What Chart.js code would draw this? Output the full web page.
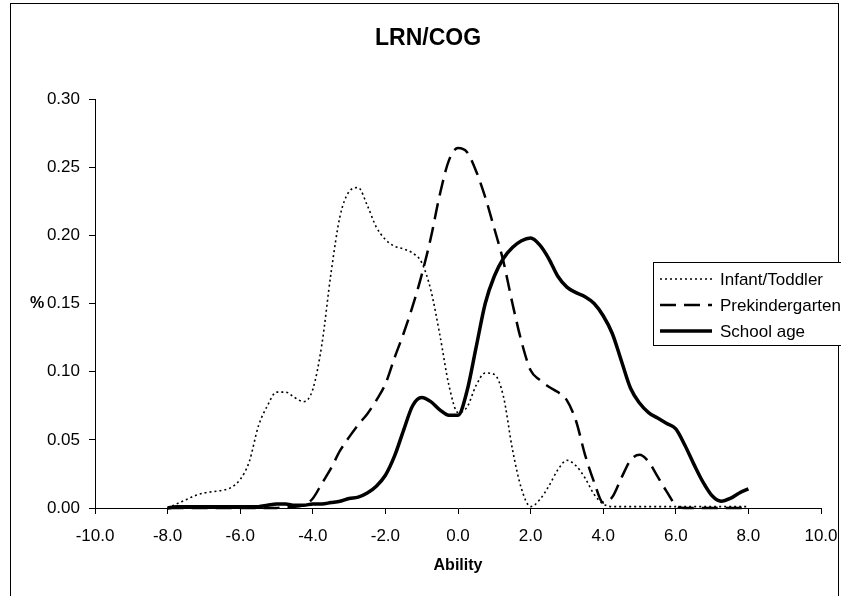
<!DOCTYPE html>
<html>
<head>
<meta charset="utf-8">
<script src="https://cdn.jsdelivr.net/npm/chart.js@4.4.1/dist/chart.umd.min.js"></script>
<style>
  html, body { margin: 0; padding: 0; background: #fff; }
  #wrap { width: 841px; height: 596px; }
</style>
</head>
<body>
<div id="wrap"><canvas id="chart" width="841" height="596"></canvas></div>
<script>
const FONT = "'Liberation Sans', Arial, sans-serif";

const chartTitle = "LRN/COG";
const xAxisTitle = "Ability";
const yAxisTitle = "%";
const seriesNames = ["Infant/Toddler", "Prekindergarten", "School age"];

// ability scores (x values)
const ability = [
  -8, -7.75, -7.5, -7.25, -7, -6.75, -6.5, -6.25, -6, -5.75, -5.5, -5.25, -5,
  -4.75, -4.5, -4.25, -4, -3.75, -3.5, -3.25, -3, -2.75, -2.5, -2.25, -2,
  -1.75, -1.5, -1.25, -1, -0.75, -0.5, -0.25, 0, 0.25, 0.5, 0.75, 1, 1.25,
  1.5, 1.75, 2, 2.25, 2.5, 2.75, 3, 3.25, 3.5, 3.75, 4, 4.25, 4.5, 4.75, 5,
  5.25, 5.5, 5.75, 6, 6.25, 6.5, 6.75, 7, 7.25, 7.5, 7.75, 8
];

const infantToddler = [
  0.000, 0.003, 0.006, 0.009, 0.011, 0.012, 0.013, 0.015, 0.021, 0.034, 0.060, 0.075, 0.085,
  0.085, 0.081, 0.078, 0.087, 0.120, 0.172, 0.214, 0.232, 0.235, 0.222, 0.206, 0.197,
  0.192, 0.190, 0.187, 0.180, 0.160, 0.127, 0.090, 0.070, 0.074, 0.090, 0.099, 0.098, 0.082,
  0.043, 0.014, 0.001, 0.006, 0.016, 0.028, 0.035, 0.031, 0.022, 0.010, 0.003, 0.001, 0.001, 0.001, 0.001,
  0.001, 0.001, 0.001, 0.001, 0.001, 0.001, 0.001, 0.001, 0.001, 0.001, 0.001, 0.001
];

const prekindergarten = [
  0.000, 0.000, 0.000, 0.000, 0.000, 0.000, 0.000, 0.000, 0.000, 0.000, 0.000, 0.000, 0.000,
  0.001, 0.001, 0.002, 0.007, 0.018, 0.029, 0.042, 0.052, 0.061, 0.069, 0.079, 0.091,
  0.110, 0.128, 0.148, 0.171, 0.198, 0.230, 0.255, 0.264, 0.261, 0.247, 0.228, 0.205, 0.181,
  0.150, 0.122, 0.101, 0.094, 0.089, 0.085, 0.079, 0.064, 0.039, 0.019, 0.004, 0.008, 0.022, 0.035, 0.039,
  0.034, 0.023, 0.012, 0.002, 0.000, 0.000, 0.000, 0.000, 0.000, 0.000, 0.000, 0.000
];

const schoolAge = [
  0.000, 0.001, 0.001, 0.001, 0.001, 0.001, 0.001, 0.001, 0.001, 0.001, 0.001, 0.002, 0.003,
  0.003, 0.002, 0.002, 0.003, 0.003, 0.004, 0.005, 0.007, 0.008, 0.011, 0.016, 0.024,
  0.038, 0.057, 0.075, 0.081, 0.078, 0.072, 0.068, 0.068, 0.086, 0.118, 0.150, 0.170, 0.183,
  0.191, 0.196, 0.198, 0.193, 0.183, 0.170, 0.162, 0.158, 0.155, 0.150, 0.141, 0.128, 0.108, 0.088, 0.077,
  0.070, 0.066, 0.062, 0.058, 0.046, 0.032, 0.019, 0.009, 0.005, 0.007, 0.011, 0.014
];

function points(values) {
  return ability.map((x, i) => ({ x: x, y: values[i] }));
}

const styles = [
  { width: 1.6, dash: [2, 3] },
  { width: 2.5, dash: [16, 8] },
  { width: 3.5, dash: [] }
];

// border, title, axis titles and the legend box inside the plot
const extras = {
  id: "extras",
  beforeDraw(chart) {
    const ctx = chart.ctx;
    ctx.save();
    ctx.fillStyle = "#fff";
    ctx.fillRect(0, 0, chart.width, chart.height);
    ctx.strokeStyle = "#000";
    ctx.lineWidth = 1;
    ctx.strokeRect(10.5, 3.5, 828, 620);
    ctx.restore();
  },
  afterDraw(chart) {
    const ctx = chart.ctx;
    ctx.save();
    ctx.fillStyle = "#000";
    ctx.textAlign = "center";
    ctx.textBaseline = "middle";
    ctx.font = "bold 23px " + FONT;
    ctx.fillText(chartTitle, 428, 39);
    ctx.font = "bold 16px " + FONT;
    ctx.fillText(xAxisTitle, 458, 566);
    ctx.fillText(yAxisTitle, 37, 304);

    // legend
    const lx = 653, ly = 262;
    ctx.fillStyle = "#fff";
    ctx.fillRect(lx, ly, 200, 83);
    ctx.strokeStyle = "#000";
    ctx.lineWidth = 1;
    ctx.strokeRect(lx + 0.5, ly + 0.5, 200, 83);
    ctx.font = "17px " + FONT;
    ctx.textAlign = "left";
    const rows = [279, 305, 331];
    seriesNames.forEach((name, i) => {
      ctx.beginPath();
      ctx.lineWidth = styles[i].width;
      ctx.setLineDash(styles[i].dash);
      ctx.moveTo(660, rows[i]);
      ctx.lineTo(712, rows[i]);
      ctx.stroke();
      ctx.setLineDash([]);
      ctx.fillStyle = "#000";
      ctx.fillText(name, 720, rows[i] + 1);
    });
    ctx.restore();
  }
};

new Chart(document.getElementById("chart"), {
  type: "line",
  data: {
    datasets: [infantToddler, prekindergarten, schoolAge].map((vals, i) => ({
      label: seriesNames[i],
      data: points(vals),
      borderColor: "#000",
      borderWidth: styles[i].width,
      borderDash: styles[i].dash,
      pointRadius: 0,
      fill: false,
      cubicInterpolationMode: "monotone",
      clip: false
    }))
  },
  options: {
    responsive: false,
    animation: false,
    layout: { padding: { top: 99, right: 20, left: 0, bottom: 0 } },
    plugins: {
      legend: { display: false },
      title: { display: false },
      tooltip: { enabled: false }
    },
    scales: {
      x: {
        type: "linear",
        min: -10,
        max: 10,
        afterFit(scale) {
          scale.height = 88;
          scale.paddingLeft = 0;
          scale.paddingRight = 0;
        },
        grid: { drawOnChartArea: false, drawTicks: true, tickLength: 6, color: "#000" },
        border: { color: "#000", width: 1 },
        ticks: {
          stepSize: 2,
          padding: 12,
          color: "#000",
          font: { family: FONT, size: 17 },
          maxRotation: 0,
          callback: (v) => Number(v).toFixed(1)
        }
      },
      y: {
        min: 0,
        max: 0.3,
        afterFit(scale) {
          scale.width = 95;
          scale.paddingTop = 0;
          scale.paddingBottom = 0;
        },
        grid: { drawOnChartArea: false, drawTicks: true, tickLength: 6, color: "#000" },
        border: { color: "#000", width: 1 },
        ticks: {
          stepSize: 0.05,
          padding: 9,
          color: "#000",
          font: { family: FONT, size: 17 },
          callback: (v) => Number(v).toFixed(2)
        }
      }
    }
  },
  plugins: [extras]
});
</script>
</body>
</html>
